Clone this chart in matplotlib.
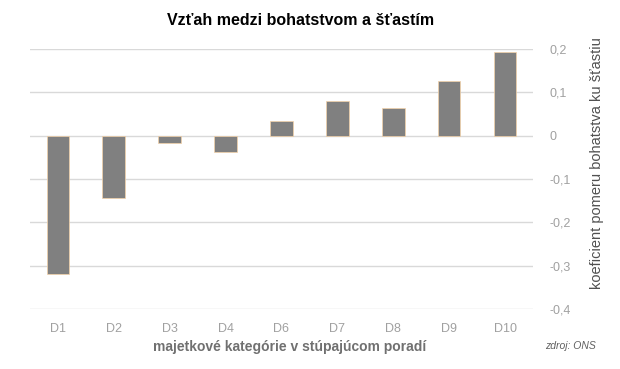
import matplotlib
matplotlib.use("Agg")
import matplotlib.pyplot as plt

categories = ["D1", "D2", "D3", "D4", "D6", "D7", "D8", "D9", "D10"]
values = [-0.32, -0.143, -0.016, -0.037, 0.035, 0.08, 0.065, 0.127, 0.194]
yticks = [0.2, 0.1, 0, -0.1, -0.2, -0.3, -0.4]
ytick_labels = ["0,2", "0,1", "0", "-0,1", "-0,2", "-0,3", "-0,4"]

plt.rcParams['font.family'] = ['Liberation Sans', 'DejaVu Sans']
fig = plt.figure(figsize=(6.2, 3.69), dpi=100)
ax = fig.add_axes([0.048, 0.1626, 0.812, 0.7044])

x = list(range(len(categories)))
ax.bar(x, values, width=0.4, color="#808080", edgecolor="#f5d2a8", linewidth=0.5, zorder=3)
ax.set_xlim(-0.5, len(categories) - 0.5)
ax.set_ylim(-0.4, 0.2)
ax.set_yticks(yticks)
ax.set_yticklabels(ytick_labels)
ax.yaxis.tick_right()
ax.grid(axis="y", color="#d9d9d9", linewidth=1, zorder=0)
for s in ax.spines.values():
    s.set_visible(False)
ax.tick_params(axis="y", length=0, pad=12, labelcolor="#a0a0a0", labelsize=9)
ax.tick_params(axis="x", length=0, pad=10, labelcolor="#a0a0a0", labelsize=9)
ax.set_xticks(x)
ax.set_xticklabels(categories)

ax.yaxis.set_label_position("right")
ax.set_ylabel("koeficient pomeru bohatstva ku šťastiu", color="#505050", fontsize=10.5)
ax.yaxis.set_label_coords(1.113, 0.56)
ax.set_xlabel("majetkové kategórie v stúpajúcom poradí", color="#707070", fontsize=10,
              fontweight="bold")
ax.xaxis.set_label_coords(0.517, -0.12)

fig.text(0.485, 0.945, "Vzťah medzi bohatstvom a šťastím", ha="center", va="center",
         fontsize=11.5, fontweight="bold", color="#000000")
fig.text(0.92, 0.062, "zdroj: ONS", ha="center", va="center", fontsize=7.5,
         style="italic", color="#606060")

fig.savefig("out.png", dpi=100)
